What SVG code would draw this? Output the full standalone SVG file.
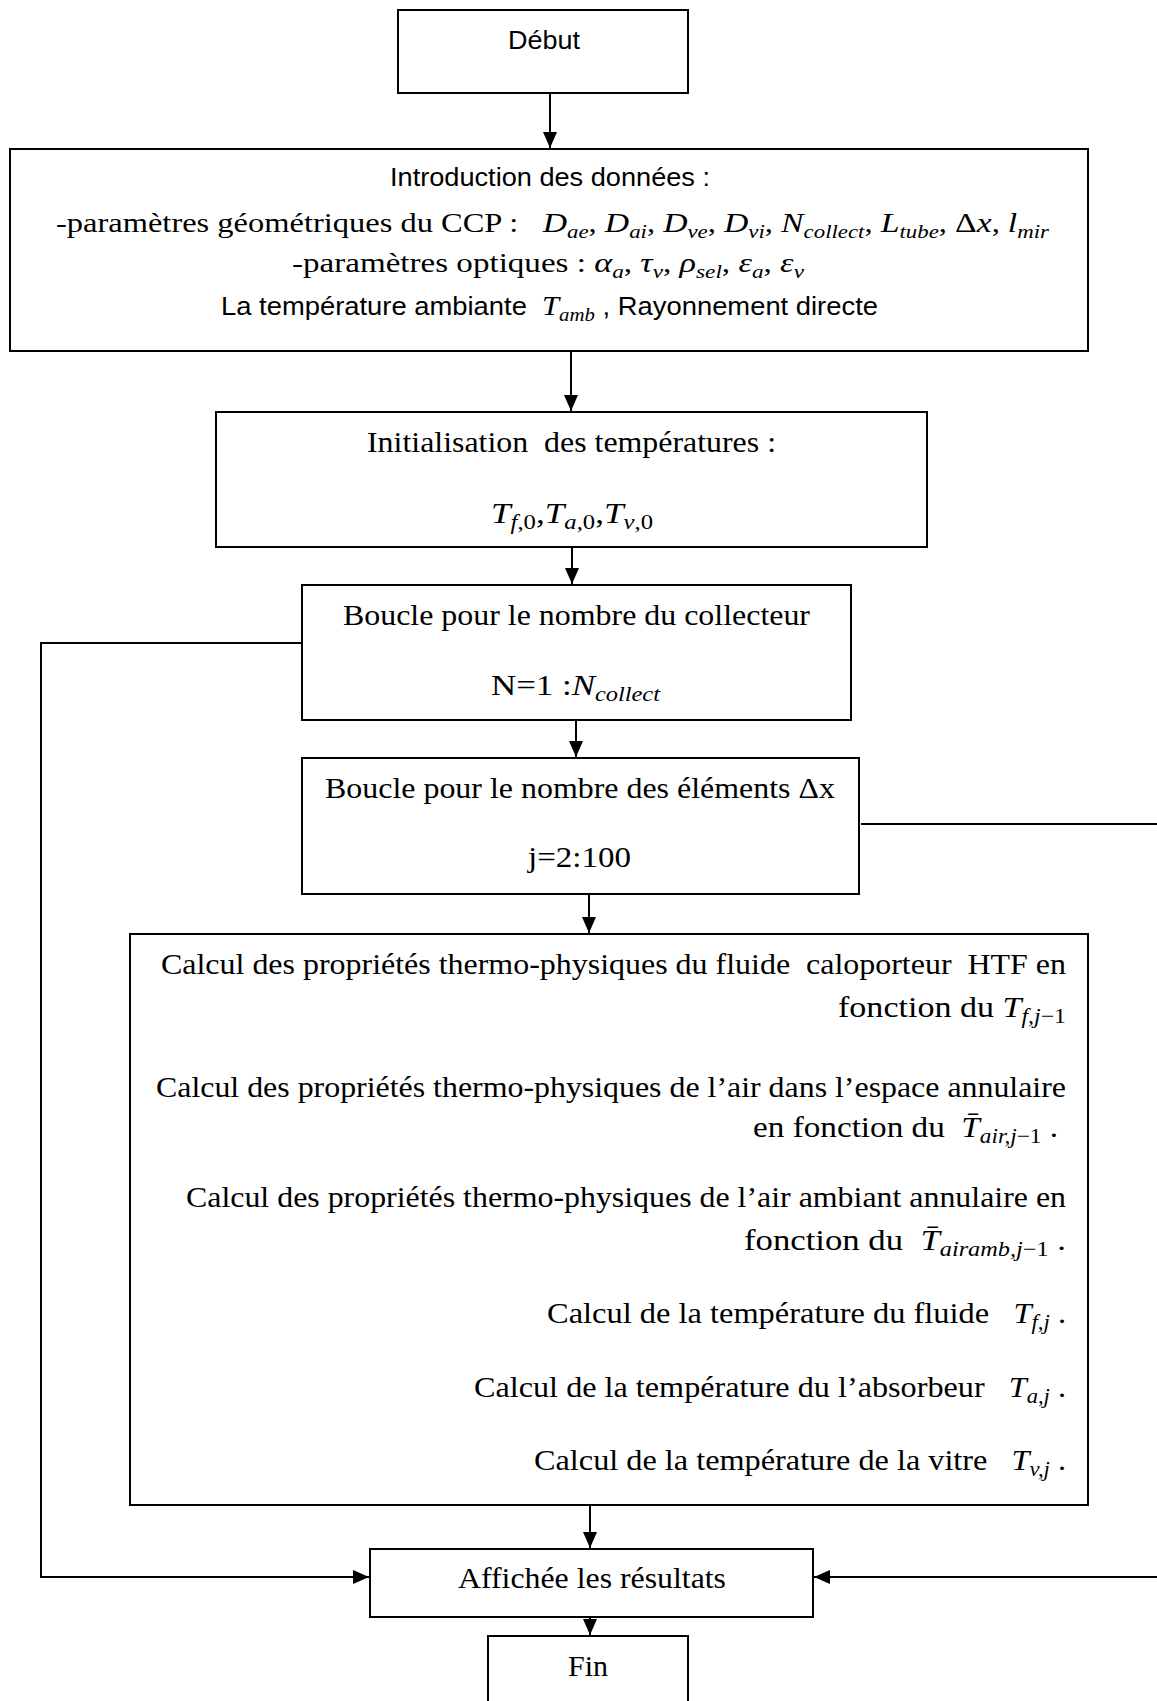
<svg xmlns="http://www.w3.org/2000/svg" width="1157" height="1701" viewBox="0 0 1157 1701">
<defs>
<style>
.box{fill:#fff;stroke:#000;stroke-width:2}
.conn{fill:none;stroke:#000;stroke-width:2}
.sa{font-family:"Liberation Sans",Arial,sans-serif;font-size:25px;fill:#000}
.se{font-family:"Liberation Serif","Times New Roman",serif;font-size:30px;fill:#000}
.se27{font-size:27px}
.mi{font-family:"Liberation Serif","Times New Roman",serif;font-style:italic}
.up{font-family:"Liberation Serif","Times New Roman",serif;font-style:normal}
.m28{font-size:28px}
.s21{font-size:21px}
.s19{font-size:19px}
</style>
<marker id="ah" markerUnits="userSpaceOnUse" markerWidth="18" markerHeight="14" refX="16" refY="7" orient="auto"><path d="M0,0 L16,7 L0,14 z" fill="#000"/></marker>
</defs>
<rect width="1157" height="1701" fill="#fff"/>

<g id="connectors">
<path class="conn" d="M550,93 V148" marker-end="url(#ah)"/>
<path class="conn" d="M571,351 V411" marker-end="url(#ah)"/>
<path class="conn" d="M572,547 V584" marker-end="url(#ah)"/>
<path class="conn" d="M576,720 V757" marker-end="url(#ah)"/>
<path class="conn" d="M589,894 V933" marker-end="url(#ah)"/>
<path class="conn" d="M590,1505 V1548" marker-end="url(#ah)"/>
<path class="conn" d="M590,1617 V1635" marker-end="url(#ah)"/>
<path class="conn" d="M302,643 H41 V1577 H369" marker-end="url(#ah)"/>
<path class="conn" d="M861,824 H1165 V1577 H814" marker-end="url(#ah)"/>
</g>

<g id="debut">
<rect class="box" x="398" y="10" width="290" height="83"/>
<text class="sa" x="508" y="49" textLength="72" lengthAdjust="spacingAndGlyphs">Début</text>
</g>

<g id="donnees">
<rect class="box" x="10" y="149" width="1078" height="202"/>
<text class="sa" x="390" y="186" textLength="320" lengthAdjust="spacingAndGlyphs">Introduction des données :</text>
<text class="se se27" x="56" y="232" textLength="993" lengthAdjust="spacingAndGlyphs" xml:space="preserve">-paramètres géométriques du CCP :   <tspan class="mi m28">D</tspan><tspan class="mi s19" dy="6">ae</tspan><tspan dy="-6">, </tspan><tspan class="mi m28">D</tspan><tspan class="mi s19" dy="6">ai</tspan><tspan dy="-6">, </tspan><tspan class="mi m28">D</tspan><tspan class="mi s19" dy="6">ve</tspan><tspan dy="-6">, </tspan><tspan class="mi m28">D</tspan><tspan class="mi s19" dy="6">vi</tspan><tspan dy="-6">, </tspan><tspan class="mi m28">N</tspan><tspan class="mi s19" dy="6">collect</tspan><tspan dy="-6">, </tspan><tspan class="mi m28">L</tspan><tspan class="mi s19" dy="6">tube</tspan><tspan dy="-6">, </tspan><tspan class="m28">Δ</tspan><tspan class="mi m28">x</tspan><tspan>, </tspan><tspan class="mi m28">l</tspan><tspan class="mi s19" dy="6">mir</tspan></text>
<text class="se se27" x="292" y="272" textLength="512" lengthAdjust="spacingAndGlyphs" xml:space="preserve">-paramètres optiques : <tspan class="mi m28">α</tspan><tspan class="mi s19" dy="6">a</tspan><tspan dy="-6">, </tspan><tspan class="mi m28">τ</tspan><tspan class="mi s19" dy="6">v</tspan><tspan dy="-6">, </tspan><tspan class="mi m28">ρ</tspan><tspan class="mi s19" dy="6">sel</tspan><tspan dy="-6">, </tspan><tspan class="mi m28">ε</tspan><tspan class="mi s19" dy="6">a</tspan><tspan dy="-6">, </tspan><tspan class="mi m28">ε</tspan><tspan class="mi s19" dy="6">v</tspan></text>
<text class="sa" x="221" y="315" textLength="657" lengthAdjust="spacingAndGlyphs" xml:space="preserve">La température ambiante  <tspan class="mi m28">T</tspan><tspan class="mi s19" dy="6">amb</tspan><tspan dy="-6"> , Rayonnement directe</tspan></text>
</g>

<g id="initialisation">
<rect class="box" x="216" y="412" width="711" height="135"/>
<text class="se" x="367" y="452" textLength="409" lengthAdjust="spacingAndGlyphs" xml:space="preserve">Initialisation  des températures :</text>
<text class="se" x="491" y="523" textLength="162" lengthAdjust="spacingAndGlyphs"><tspan class="mi">T</tspan><tspan class="mi s21" dy="6">f</tspan><tspan class="up s21">,0</tspan><tspan dy="-6">,</tspan><tspan class="mi">T</tspan><tspan class="mi s21" dy="6">a</tspan><tspan class="up s21">,0</tspan><tspan dy="-6">,</tspan><tspan class="mi">T</tspan><tspan class="mi s21" dy="6">v</tspan><tspan class="up s21">,0</tspan></text>
</g>

<g id="boucle-collecteur">
<rect class="box" x="302" y="585" width="549" height="135"/>
<text class="se" x="343" y="625" textLength="467" lengthAdjust="spacingAndGlyphs">Boucle pour le nombre du collecteur</text>
<text class="se" x="491" y="695" textLength="169" lengthAdjust="spacingAndGlyphs">N=1 :<tspan class="mi">N</tspan><tspan class="mi s21" dy="6">collect</tspan></text>
</g>

<g id="boucle-elements">
<rect class="box" x="302" y="758" width="557" height="136"/>
<text class="se" x="325" y="798" textLength="510" lengthAdjust="spacingAndGlyphs">Boucle pour le nombre des éléments Δx</text>
<text class="se" x="528" y="867" textLength="103" lengthAdjust="spacingAndGlyphs">j=2:100</text>
</g>

<g id="calcul">
<rect class="box" x="130" y="934" width="958" height="571"/>
<text class="se" x="161" y="974" textLength="905" lengthAdjust="spacingAndGlyphs" xml:space="preserve">Calcul des propriétés thermo-physiques du fluide  caloporteur  HTF en</text>
<text class="se" x="838" y="1017" textLength="228" lengthAdjust="spacingAndGlyphs" xml:space="preserve">fonction du <tspan class="mi">T</tspan><tspan class="mi s21" dy="6">f,j</tspan><tspan class="up s21">−1</tspan></text>
<text class="se" x="156" y="1097" textLength="910" lengthAdjust="spacingAndGlyphs">Calcul des propriétés thermo-physiques de l’air dans l’espace annulaire</text>
<text class="se" x="753" y="1137" textLength="305" lengthAdjust="spacingAndGlyphs" xml:space="preserve">en fonction du  <tspan class="mi">T̄</tspan><tspan class="mi s21" dy="6">air,j</tspan><tspan class="up s21">−1</tspan><tspan dy="-6"> .</tspan></text>
<text class="se" x="186" y="1207" textLength="880" lengthAdjust="spacingAndGlyphs">Calcul des propriétés thermo-physiques de l’air ambiant annulaire en</text>
<text class="se" x="744" y="1250" textLength="322" lengthAdjust="spacingAndGlyphs" xml:space="preserve">fonction du  <tspan class="mi">T̄</tspan><tspan class="mi s21" dy="6">airamb,j</tspan><tspan class="up s21">−1</tspan><tspan dy="-6"> .</tspan></text>
<text class="se" x="547" y="1323" textLength="519" lengthAdjust="spacingAndGlyphs" xml:space="preserve">Calcul de la température du fluide   <tspan class="mi">T</tspan><tspan class="mi s21" dy="6">f,j</tspan><tspan dy="-6"> .</tspan></text>
<text class="se" x="474" y="1397" textLength="592" lengthAdjust="spacingAndGlyphs" xml:space="preserve">Calcul de la température du l’absorbeur   <tspan class="mi">T</tspan><tspan class="mi s21" dy="6">a,j</tspan><tspan dy="-6"> .</tspan></text>
<text class="se" x="534" y="1470" textLength="532" lengthAdjust="spacingAndGlyphs" xml:space="preserve">Calcul de la température de la vitre   <tspan class="mi">T</tspan><tspan class="mi s21" dy="6">v,j</tspan><tspan dy="-6"> .</tspan></text>
</g>

<g id="affichage">
<rect class="box" x="370" y="1549" width="443" height="68"/>
<text class="se" x="458" y="1588" textLength="268" lengthAdjust="spacingAndGlyphs">Affichée les résultats</text>
</g>

<g id="fin">
<rect class="box" x="488" y="1636" width="200" height="90"/>
<text class="se" x="568" y="1676" textLength="40" lengthAdjust="spacingAndGlyphs">Fin</text>
</g>
</svg>
